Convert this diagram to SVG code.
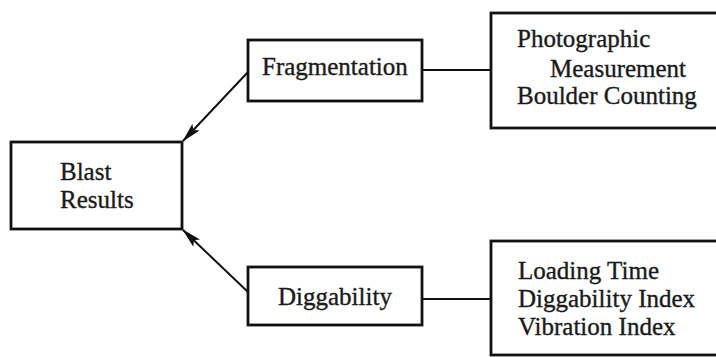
<svg xmlns="http://www.w3.org/2000/svg" width="716" height="357" viewBox="0 0 716 357">
  <defs>
    <marker id="arrow" viewBox="0 0 20 10" refX="19" refY="5" markerWidth="20" markerHeight="10" markerUnits="userSpaceOnUse" orient="auto">
      <path d="M0,0 L20,5 L0,10 L4,5 Z" fill="#111"/>
    </marker>
  </defs>
  <style>
    .box { fill: #fff; stroke: #111; stroke-width: 2.8; }
    .label { font-family: "Liberation Serif", "Times New Roman", serif; font-size: 25px; fill: #1a1a1a; stroke: #1a1a1a; stroke-width: 0.35; }
    .link { stroke: #111; stroke-width: 2; fill: none; }
  </style>
  <rect width="716" height="357" fill="#fff"/>

  <g id="connectors">
    <line class="link" x1="248" y1="72" x2="183" y2="141" marker-end="url(#arrow)"/>
    <line class="link" x1="248" y1="292" x2="183" y2="230" marker-end="url(#arrow)"/>
    <line class="link" x1="422" y1="70" x2="491" y2="70"/>
    <line class="link" x1="422" y1="299" x2="491" y2="299"/>
  </g>

  <g id="blast-results">
    <rect class="box" x="11" y="142" width="171" height="87"/>
    <text class="label" x="60" y="180">Blast</text>
    <text class="label" x="60" y="208">Results</text>
  </g>

  <g id="fragmentation">
    <rect class="box" x="248" y="40" width="174" height="61"/>
    <text class="label" x="262" y="75">Fragmentation</text>
  </g>

  <g id="diggability">
    <rect class="box" x="248" y="267" width="174" height="58"/>
    <text class="label" x="278" y="305">Diggability</text>
  </g>

  <g id="fragmentation-methods">
    <rect class="box" x="491" y="13" width="240" height="115"/>
    <text class="label" x="517" y="47">Photographic</text>
    <text class="label" x="550" y="77">Measurement</text>
    <text class="label" x="517" y="104">Boulder Counting</text>
  </g>

  <g id="diggability-measures">
    <rect class="box" x="491" y="241" width="240" height="114"/>
    <text class="label" x="518" y="279">Loading Time</text>
    <text class="label" x="518" y="307">Diggability Index</text>
    <text class="label" x="518" y="335">Vibration Index</text>
  </g>
</svg>
